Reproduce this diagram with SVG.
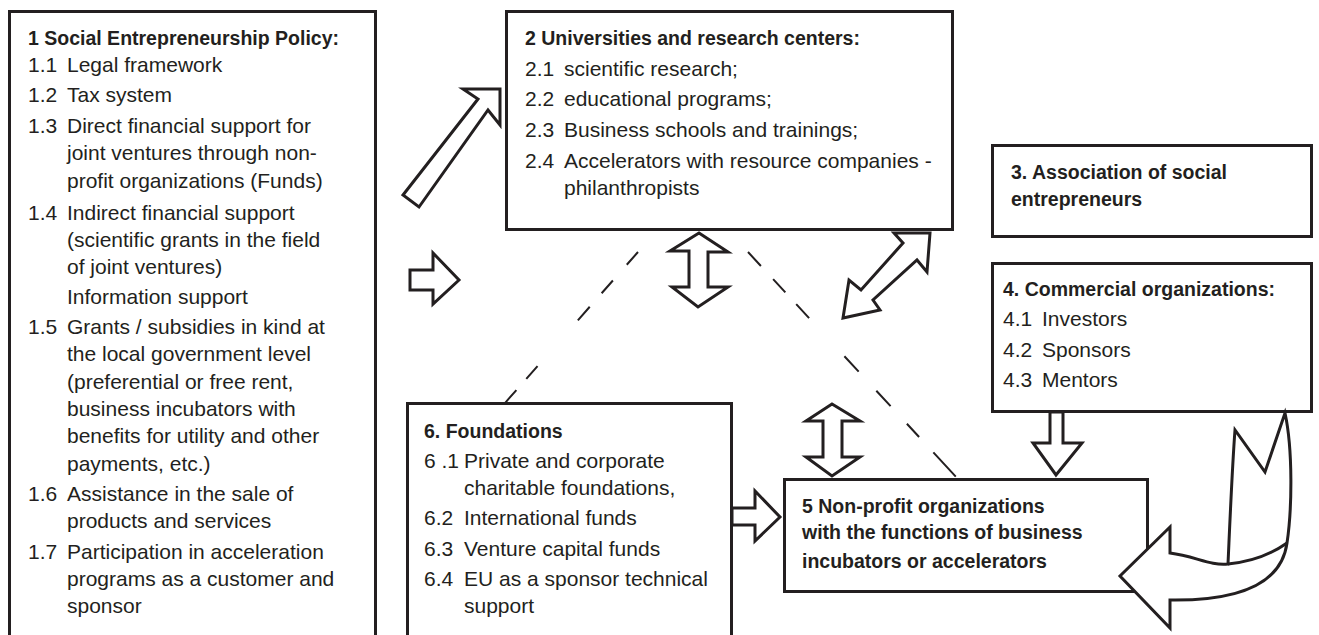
<svg xmlns="http://www.w3.org/2000/svg" width="1319" height="635" viewBox="0 0 1319 635">
<style>
.box{fill:#fff;stroke:#231f20;stroke-width:3}
.arr{fill:#fff;stroke:#231f20;stroke-width:3;stroke-linejoin:miter}
.ln{fill:none;stroke:#231f20;stroke-width:3}
.dash{fill:none;stroke:#231f20;stroke-width:2}
text{font-family:"Liberation Sans",Arial,sans-serif;fill:#231f20}
.t{font-size:21px}
.b{font-size:19.5px;font-weight:bold}
</style>
<rect width="1319" height="635" fill="#fff"/>
<g id="node1">
<rect class="box" x="9.5" y="11.5" width="366" height="700"/>
<text class="b" x="28" y="45">1 Social Entrepreneurship Policy:</text>
<text class="t" x="28" y="72">1.1</text><text class="t" x="67" y="72">Legal framework</text>
<text class="t" x="28" y="102">1.2</text><text class="t" x="67" y="102">Tax system</text>
<text class="t" x="28" y="133">1.3</text><text class="t" x="67" y="133">Direct financial support for</text>
<text class="t" x="67" y="160">joint ventures through non-</text>
<text class="t" x="67" y="188">profit organizations (Funds)</text>
<text class="t" x="28" y="220">1.4</text><text class="t" x="67" y="220">Indirect financial support</text>
<text class="t" x="67" y="247">(scientific grants in the field</text>
<text class="t" x="67" y="274">of joint ventures)</text>
<text class="t" x="67" y="304">Information support</text>
<text class="t" x="28" y="334">1.5</text><text class="t" x="67" y="334">Grants / subsidies in kind at</text>
<text class="t" x="67" y="361">the local government level</text>
<text class="t" x="67" y="389">(preferential or free rent,</text>
<text class="t" x="67" y="416">business incubators with</text>
<text class="t" x="67" y="443">benefits for utility and other</text>
<text class="t" x="67" y="471">payments, etc.)</text>
<text class="t" x="28" y="501">1.6</text><text class="t" x="67" y="501">Assistance in the sale of</text>
<text class="t" x="67" y="528">products and services</text>
<text class="t" x="28" y="559">1.7</text><text class="t" x="67" y="559">Participation in acceleration</text>
<text class="t" x="67" y="586">programs as a customer and</text>
<text class="t" x="67" y="613">sponsor</text>
</g>
<g id="node2">
<rect class="box" x="506.5" y="11.5" width="446" height="218"/>
<text class="b" x="525" y="45">2 Universities and research centers:</text>
<text class="t" x="525" y="76">2.1</text><text class="t" x="564" y="76">scientific research;</text>
<text class="t" x="525" y="106">2.2</text><text class="t" x="564" y="106">educational programs;</text>
<text class="t" x="525" y="137">2.3</text><text class="t" x="564" y="137">Business schools and trainings;</text>
<text class="t" x="525" y="168">2.4</text><text class="t" x="564" y="168">Accelerators with resource companies -</text>
<text class="t" x="564" y="195">philanthropists</text>
</g>
<g id="node3">
<rect class="box" x="992.5" y="145.5" width="319" height="91"/>
<text class="b" x="1011" y="179">3. Association of social</text>
<text class="b" x="1011" y="206">entrepreneurs</text>
</g>
<g id="node4">
<rect class="box" x="992.5" y="263.5" width="319" height="148"/>
<text class="b" x="1003" y="296">4. Commercial organizations:</text>
<text class="t" x="1003" y="326">4.1</text><text class="t" x="1042" y="326">Investors</text>
<text class="t" x="1003" y="357">4.2</text><text class="t" x="1042" y="357">Sponsors</text>
<text class="t" x="1003" y="387">4.3</text><text class="t" x="1042" y="387">Mentors</text>
</g>
<g id="node5">
<rect class="box" x="784.5" y="479.5" width="363" height="112"/>
<text class="b" x="802" y="513">5 Non-profit organizations</text>
<text class="b" x="802" y="539">with the functions of business</text>
<text class="b" x="802" y="568">incubators or accelerators</text>
</g>
<g id="node6">
<rect class="box" x="407.5" y="403.5" width="324" height="300"/>
<text class="b" x="424" y="438">6. Foundations</text>
<text class="t" x="424" y="468">6 .1</text><text class="t" x="464" y="468">Private and corporate</text>
<text class="t" x="464" y="495">charitable foundations,</text>
<text class="t" x="424" y="525">6.2</text><text class="t" x="464" y="525">International funds</text>
<text class="t" x="424" y="556">6.3</text><text class="t" x="464" y="556">Venture capital funds</text>
<text class="t" x="424" y="586">6.4</text><text class="t" x="464" y="586">EU as a sponsor technical</text>
<text class="t" x="464" y="613">support</text>
</g>
<g id="connectors">
<line class="dash" x1="638" y1="252" x2="505" y2="403" stroke-dasharray="17 21 17 18 18 61 17 15 17"/>
<line class="dash" x1="748" y1="252" x2="957" y2="478" stroke-dasharray="19 18 18 16 19 52 21 26 21 24 18 21 33"/>
<polygon class="arr" points="403,195 478,99 463,89 500,89 500,125 488,110 419,207"/>
<polygon class="arr" points="410,270 433,270 433,253 459,280 433,304 433,290 410,290"/>
<polygon class="arr" points="699,233 728,252 708,252 708,287 728,287 698,307 672,287 689,287 689,251 670,251"/>
<polygon class="arr" points="930,233 894,233 903,243 861,290 849,280 843,318 880,310 873,300 917,260 927,272"/>
<polygon class="arr" points="832,404 860,421 842,421 842,457 860,457 832,476 806,457 823,457 823,421 806,421"/>
<polygon class="arr" points="1050,412 1063,412 1063,443 1082,443 1056,475 1033,443 1050,443"/>
<polygon class="arr" points="732,508 755,508 755,491 780,517 755,541 755,525 732,525"/>
<path class="arr" d="M1285,413 C1293,450 1292,510 1287,543 C1282,580 1245,601 1170,600 L1170,628 L1120,576 L1170,527 L1170,553 C1195,556 1210,566 1228,564 C1230,520 1232,470 1235,430 L1265,472 Z"/>
<path class="ln" d="M1228,564 C1250,562 1270,555 1287,543"/>
</g>
</svg>
